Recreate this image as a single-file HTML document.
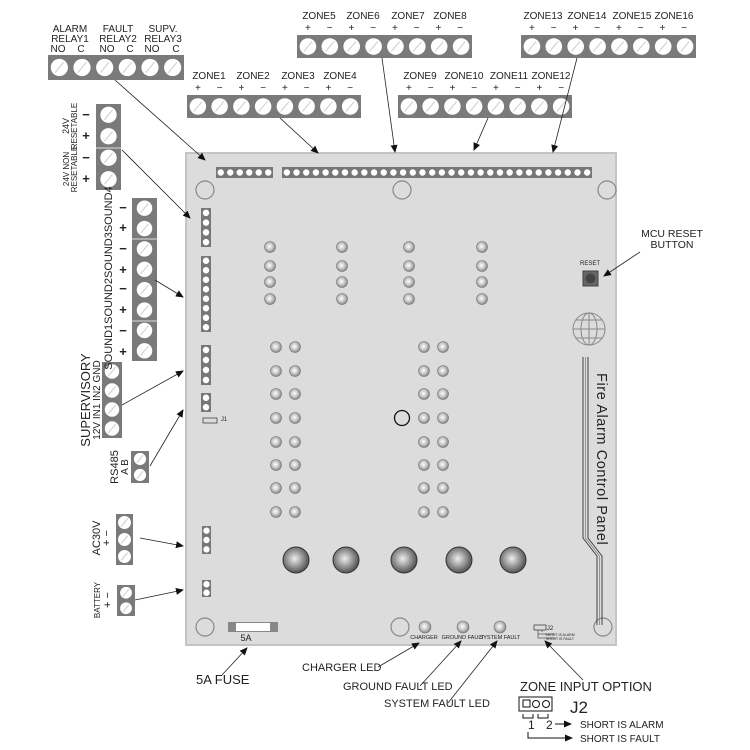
<!DOCTYPE html>
<html><head><meta charset="utf-8"><style>
html,body{margin:0;padding:0;background:#fff}
svg{display:block}
text{font-family:"Liberation Sans",sans-serif;fill:#222}
</style></head><body>
<svg id="s" width="750" height="750" viewBox="0 0 750 750" xmlns="http://www.w3.org/2000/svg">
<defs>
<radialGradient id="led" cx="0.45" cy="0.45" r="0.6"><stop offset="0" stop-color="#fff"/><stop offset="0.5" stop-color="#c8c8c8"/><stop offset="1" stop-color="#777"/></radialGradient>
<radialGradient id="big" cx="0.45" cy="0.45" r="0.6"><stop offset="0" stop-color="#eee"/><stop offset="0.5" stop-color="#999"/><stop offset="1" stop-color="#444"/></radialGradient>
<marker id="ah" markerWidth="8" markerHeight="8" refX="7" refY="4" orient="auto" markerUnits="userSpaceOnUse"><path d="M0,0.5 L8,4 L0,7.5 z" fill="#111"/></marker>
</defs>
<rect x="186" y="153" width="430" height="492" fill="#dcdcdc" stroke="#c4c4c4" stroke-width="2"/>
<g id="g"></g>
<g font-size="10" text-anchor="middle">
<text x="70" y="32">ALARM</text><text x="70" y="42">RELAY1</text>
<text x="118" y="32">FAULT</text><text x="118" y="42">RELAY2</text>
<text x="163" y="32">SUPV.</text><text x="163" y="42">RELAY3</text>
<text x="58" y="52">NO</text><text x="81" y="52">C</text><text x="107" y="52">NO</text><text x="130" y="52">C</text><text x="152" y="52">NO</text><text x="176" y="52">C</text>
<text x="209" y="79">ZONE1</text><text x="253" y="79">ZONE2</text><text x="298" y="79">ZONE3</text><text x="340" y="79">ZONE4</text>
<text x="319" y="19">ZONE5</text><text x="363" y="19">ZONE6</text><text x="408" y="19">ZONE7</text><text x="450" y="19">ZONE8</text>
<text x="420" y="79">ZONE9</text><text x="464" y="79">ZONE10</text><text x="509" y="79">ZONE11</text><text x="551" y="79">ZONE12</text>
<text x="543" y="19">ZONE13</text><text x="587" y="19">ZONE14</text><text x="632" y="19">ZONE15</text><text x="674" y="19">ZONE16</text>
</g>
<g id="pm" font-size="10" text-anchor="middle"></g>
<g font-size="10">
<text transform="translate(69,126) rotate(-90)" text-anchor="middle" font-size="9">24V</text>
<text transform="translate(77,126) rotate(-90)" text-anchor="middle" font-size="8">RESETABLE</text>
<text transform="translate(69,169) rotate(-90)" text-anchor="middle" font-size="8">24V NON</text>
<text transform="translate(77,169) rotate(-90)" text-anchor="middle" font-size="8">RESETABLE</text>
<text transform="translate(112,278) rotate(-90)" text-anchor="middle" font-size="11">SOUND1SOUND2SOUND3SOUND4</text>
<text transform="translate(90,400) rotate(-90)" text-anchor="middle" font-size="13">SUPERVISORY</text>
<text transform="translate(100,400) rotate(-90)" text-anchor="middle" font-size="10">12V IN1 IN2 GND</text>
<text transform="translate(118,467) rotate(-90)" text-anchor="middle" font-size="11">RS485</text>
<text transform="translate(128,467) rotate(-90)" text-anchor="middle" font-size="10">A  B</text>
<text transform="translate(100,538) rotate(-90)" text-anchor="middle" font-size="11">AC30V</text>
<text transform="translate(110,538) rotate(-90)" text-anchor="middle" font-size="11">+  −</text>
<text transform="translate(100,600) rotate(-90)" text-anchor="middle" font-size="8">BATTERY</text>
<text transform="translate(111,600) rotate(-90)" text-anchor="middle" font-size="11">+  −</text>
</g>
<g font-size="13" font-weight="bold" text-anchor="middle" id="lpm"></g>
<text x="590" y="265" font-size="6" text-anchor="middle">RESET</text>
<text transform="translate(597,373) rotate(90)" font-size="14.5" letter-spacing="0.6">Fire Alarm Control Panel</text>
<text x="246" y="641" font-size="9" text-anchor="middle">5A</text>
<g font-size="5.5" text-anchor="middle"><text x="424" y="639">CHARGER</text><text x="463" y="639">GROUND FAULT</text><text x="500" y="639">SYSTEM FAULT</text>
<text x="550" y="630" font-size="6">J2</text><text x="224" y="421" font-size="6">J1</text>
<text x="560" y="636" font-size="3.5">SHORT IS ALARM</text><text x="560" y="640" font-size="3.5">SHORT IS FAULT</text></g>
<g font-size="10.5" text-anchor="middle"><text x="672" y="237">MCU RESET</text><text x="672" y="248">BUTTON</text></g>
<g font-size="11">
<text x="196" y="684" font-size="13">5A  FUSE</text>
<text x="302" y="671">CHARGER LED</text>
<text x="343" y="690">GROUND FAULT LED</text>
<text x="384" y="707">SYSTEM FAULT LED</text>
<text x="520" y="691" font-size="13">ZONE INPUT OPTION</text>
<text x="570" y="713" font-size="17">J2</text>
<text x="528" y="729" font-size="12">1</text><text x="546" y="729" font-size="12">2</text>
<text x="580" y="728" font-size="10">SHORT IS ALARM</text><text x="580" y="742" font-size="10">SHORT IS FAULT</text>
</g>
<g stroke="#111" stroke-width="1" fill="none">
<rect x="519" y="697" width="33" height="14"/><rect x="523" y="700" width="7" height="7"/><circle cx="536" cy="704" r="3.5"/><circle cx="546" cy="704" r="3.5"/>
<path d="M523,714 v4 h10 v-4 M538,714 v4 h10 v-4"/>
<path d="M555,724 h16" marker-end="url(#ah)"/><path d="M528,732 v6 h44" marker-end="url(#ah)"/>
<rect x="534" y="625" width="12" height="5" stroke-width="0.6"/>
<path d="M538,630 v4 h16 M542,630 v2 M538,634 v4 h16" stroke-width="0.5"/>
<rect x="203" y="418" width="14" height="5" stroke-width="0.6"/>
<path d="M583,357 V538 L597,556 V625 M588,357 V538 L602,556 V625" stroke-width="0.9" stroke="#333"/>
<path d="M585.5,357 V538 L599.5,556 V625" stroke-width="0.7" stroke="#777"/>
<circle cx="402" cy="418" r="7.5" stroke-width="1.3"/>
<circle cx="589" cy="329" r="16" stroke="#888"/>
<ellipse cx="589" cy="329" rx="8" ry="16" stroke="#888"/><path d="M573,329 h32 M576,320 h26 M576,338 h26 M589,313 v32" stroke="#888"/>
</g>
<g stroke="#222" stroke-width="0.8" fill="none" marker-end="url(#ah)">
<path d="M115,80 L205,160"/><path d="M280,118 L318,153"/><path d="M382,58 L395,152"/><path d="M488,118 L474,150"/><path d="M577,58 L553,152"/>
<path d="M122,150 L190,218"/><path d="M155,280 L183,297"/><path d="M122,405 L183,371"/><path d="M150,466 L183,410"/>
<path d="M140,538 L183,546"/><path d="M135,600 L183,590"/><path d="M640,252 L604,276"/>
<path d="M222,675 L247,648"/><path d="M378,667 L419,643"/><path d="M420,686 L461,641"/><path d="M448,703 L497,641"/><path d="M583,680 L545,641"/>
</g>
</svg>
<script>
var g=document.getElementById('g'),NS='http://www.w3.org/2000/svg';
function el(t,a){var e=document.createElementNS(NS,t);for(var k in a)e.setAttribute(k,a[k]);g.appendChild(e);return e;}
function screw(x,y,r){el('circle',{cx:x,cy:y,r:r,fill:'#fff'});el('line',{x1:x-r*0.5,y1:y+r*0.6,x2:x+r*0.5,y2:y-r*0.6,stroke:'#ccc','stroke-width':1});}
function hblock(x,y,w,h,n){el('rect',{x:x,y:y,width:w,height:h,fill:'#7a7a7a'});var s=w/n;for(var i=0;i<n;i++)screw(x+s*(i+0.5),y+h/2,Math.min(s,h)*0.38);}
function vblock(x,y,w,h,n){el('rect',{x:x,y:y,width:w,height:h,fill:'#7a7a7a'});var s=h/n;for(var i=0;i<n;i++)screw(x+w/2,y+s*(i+0.5),Math.min(s,w)*0.38);}
hblock(48,55,136,25,6);hblock(187,95,174,23,8);hblock(297,35,175,23,8);hblock(398,95,174,23,8);hblock(521,35,175,23,8);
vblock(96,104,25,86,4);el('line',{x1:96,y1:148,x2:121,y2:148,stroke:'#ddd'});
vblock(132,198,25,163,8);[239,321].forEach(function(y){el('line',{x1:132,y1:y,x2:157,y2:y,stroke:'#ddd'})});
vblock(102,362,20,76,4);vblock(131,451,18,32,2);vblock(116,514,17,51,3);vblock(117,585,18,31,2);
function sh(x,y,w,h,n){el('rect',{x:x,y:y,width:w,height:h,fill:'#777'});var s=w/n;for(var i=0;i<n;i++)el('circle',{cx:x+s*(i+.5),cy:y+h/2,r:3.2,fill:'#fff'});}
function sv(x,y,w,h,n){el('rect',{x:x,y:y,width:w,height:h,fill:'#777'});var s=h/n;for(var i=0;i<n;i++)el('circle',{cx:x+w/2,cy:y+s*(i+.5),r:3.2,fill:'#fff'});}
sh(216,167,57,11,6);sh(282,167,310,11,32);
sv(201,208,10,39,4);sv(201,256,10,76,8);sv(201,345,10,40,4);sv(201,393,10,19,2);sv(202,526,9,28,3);sv(202,580,9,17,2);
[[205,190],[402,190],[607,190],[205,627],[400,627],[603,627]].forEach(function(p){el('circle',{cx:p[0],cy:p[1],r:9,fill:'none',stroke:'#888','stroke-width':1.2})});
[270,342,409,482].forEach(function(x){[247,266,282,299].forEach(function(y){el('circle',{cx:x,cy:y,r:5.5,fill:'url(#led)',stroke:'#777','stroke-width':0.6})})});
[276,295,424,443].forEach(function(x){[347,371,394,418,442,465,488,512].forEach(function(y){el('circle',{cx:x,cy:y,r:5.5,fill:'url(#led)',stroke:'#777','stroke-width':0.6})})});
[296,346,404,459,513].forEach(function(x){el('circle',{cx:x,cy:560,r:13,fill:'url(#big)',stroke:'#333','stroke-width':1})});
[425,463,500].forEach(function(x){el('circle',{cx:x,cy:627,r:6,fill:'url(#led)',stroke:'#777','stroke-width':0.6})});
el('rect',{x:228,y:622,width:50,height:10,fill:'#888'});el('rect',{x:236,y:623,width:34,height:8,fill:'#fff'});
el('rect',{x:583,y:271,width:15,height:15,fill:'#666',stroke:'#444'});el('circle',{cx:590.5,cy:278.5,r:5,fill:'#444'});
var pm=document.getElementById('pm');
function tx(p,x,y,s){var t=document.createElementNS(NS,'text');t.setAttribute('x',x);t.setAttribute('y',y);t.textContent=s;p.appendChild(t);}
[[187,91],[297,31],[398,91],[521,31]].forEach(function(b){for(var i=0;i<8;i++)tx(pm,b[0]+174/8*(i+.5),b[1],i%2?'−':'+');});
var l=document.getElementById('lpm');
[[86,119,'−'],[86,140,'+'],[86,162,'−'],[86,183,'+']].forEach(function(a){tx(l,a[0],a[1],a[2])});
[208,228,249,270,289,310,331,352].forEach(function(y,i){tx(l,123,y+4,i%2?'+':'−')});
</script>
</body></html>
